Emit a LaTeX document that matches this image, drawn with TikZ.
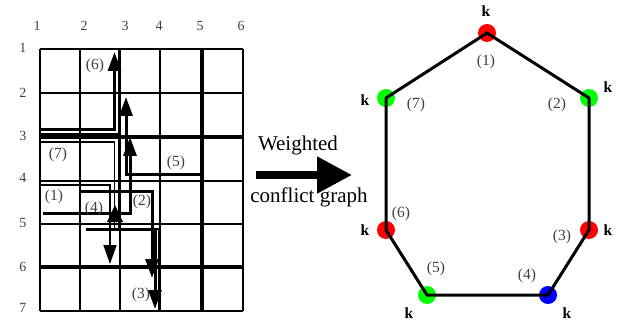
\documentclass[tikz,border=0pt]{standalone}
\usepackage{fontspec}
\setmainfont{Liberation Serif}
\usetikzlibrary{arrows.meta}

\tikzset{
  gridline/.style={line width=1.8pt},
  gridbold/.style={line width=3.4pt},
  route/.style={line width=1.6pt},
  routebold/.style={line width=3pt},
  routehead/.style={-{Triangle[length=19pt,width=13pt]}},
  ticklabel/.style={font=\fontsize{14}{14}\selectfont, text=black!75},
  netlabel/.style={font=\fontsize{15.5}{16}\selectfont, text=black!75},
  vertex/.style={circle, minimum size=18pt, inner sep=0pt},
  weight/.style={font=\fontsize{15.5}{16}\selectfont\bfseries},
  caption/.style={font=\fontsize{21}{21}\selectfont, anchor=base},
}

\begin{document}
\begin{tikzpicture}[x=1pt,y=-1pt]
  \useasboundingbox (0,0) rectangle (624,326);

  % Grid
  \foreach \x in {40,80,120,160,243} {
    \draw[gridline] (\x,49) -- (\x,311);
  }
  \foreach \y in {49,93,181,224,311} {
    \draw[gridline] (40,\y) -- (243,\y);
  }
  \draw[gridbold] (202,49) -- (202,311);
  \draw[gridbold] (40,137) -- (243,137);
  \draw[gridbold] (40,267) -- (243,267);

  % Tick labels
  \foreach \x/\v in {37/1, 84/2, 125/3, 159/4, 200/5, 241/6} {
    \node[ticklabel] (top\v) at (\x,26) {\v};
  }
  \foreach \y/\v in {48/1, 93/2, 136/3, 178/4, 223/5, 267/6, 308/7} {
    \node[ticklabel] (side\v) at (23,\y) {\v};
  }

  % Routes
  \draw[routebold,routehead] (40,130) -- (114.5,130) -- (114.5,52);
  \draw[route] (119,49) -- (119,228);
  \draw[route] (40,142) -- (114.5,142) -- (114.5,228);
  \draw[route] (40,134) -- (119,134);
  \draw[routebold,routehead] (202,175) -- (126,175) -- (126,97);
  \draw[routebold,routehead] (43,213) -- (130,213) -- (130,137);
  \draw[route,routehead] (40,185) -- (110,185) -- (110,264);
  \draw[routebold,routehead] (80,191) -- (152,191) -- (152,278);
  \draw[routebold,routehead] (86,229) -- (155,229) -- (155,309);
  \draw[route] (86,229) -- (159,229) -- (159,311);
  \fill (115,205) -- (123,222) -- (107,222) -- cycle;

  % Route labels
  \foreach \x/\y/\v in {54/197/1, 142/202/2, 141/295/3, 94/209/4, 176/163/5, 95/66/6, 58/155/7} {
    \node[netlabel] (route\v) at (\x,\y) {(\v)};
  }

  % Big arrow
  \coordinate (arrowstart) at (256,175);
  \coordinate (arrowend) at (352,175);
  \draw[line width=8pt,-{Triangle[length=35pt,width=35pt]}] (arrowstart) -- (arrowend);
  \node[caption] (captop) at (298,150) {Weighted};
  \node[caption] (capbot) at (309,202) {conflict graph};

  % Conflict graph
  \foreach \v/\x/\y/\c in {1/487/33/red, 2/589/98/green, 3/589/230/red, 4/548/295/blue,
                           5/427/295/green, 6/386/230/red, 7/386/98/green} {
    \node[vertex, fill=\c] (v\v) at (\x,\y) {};
  }
  \draw[line width=3pt, line join=round]
    (v1.center) -- (v2.center) -- (v3.center) -- (v4.center) -- (v5.center)
    -- (v6.center) -- (v7.center) -- cycle;

  % Vertex labels
  \foreach \x/\y/\v in {486/62/1, 557/105/2, 562/237/3, 527/276/4, 436/269/5, 401/214/6, 416/105/7} {
    \node[netlabel] (lab\v) at (\x,\y) {(\v)};
  }
  \foreach \x/\y/\v in {486/11/1, 608/87/2, 608/230/3, 567/313/4, 409/313/5, 365/230/6, 365/100/7} {
    \node[weight] (k\v) at (\x,\y) {k};
  }
\end{tikzpicture}
\end{document}
